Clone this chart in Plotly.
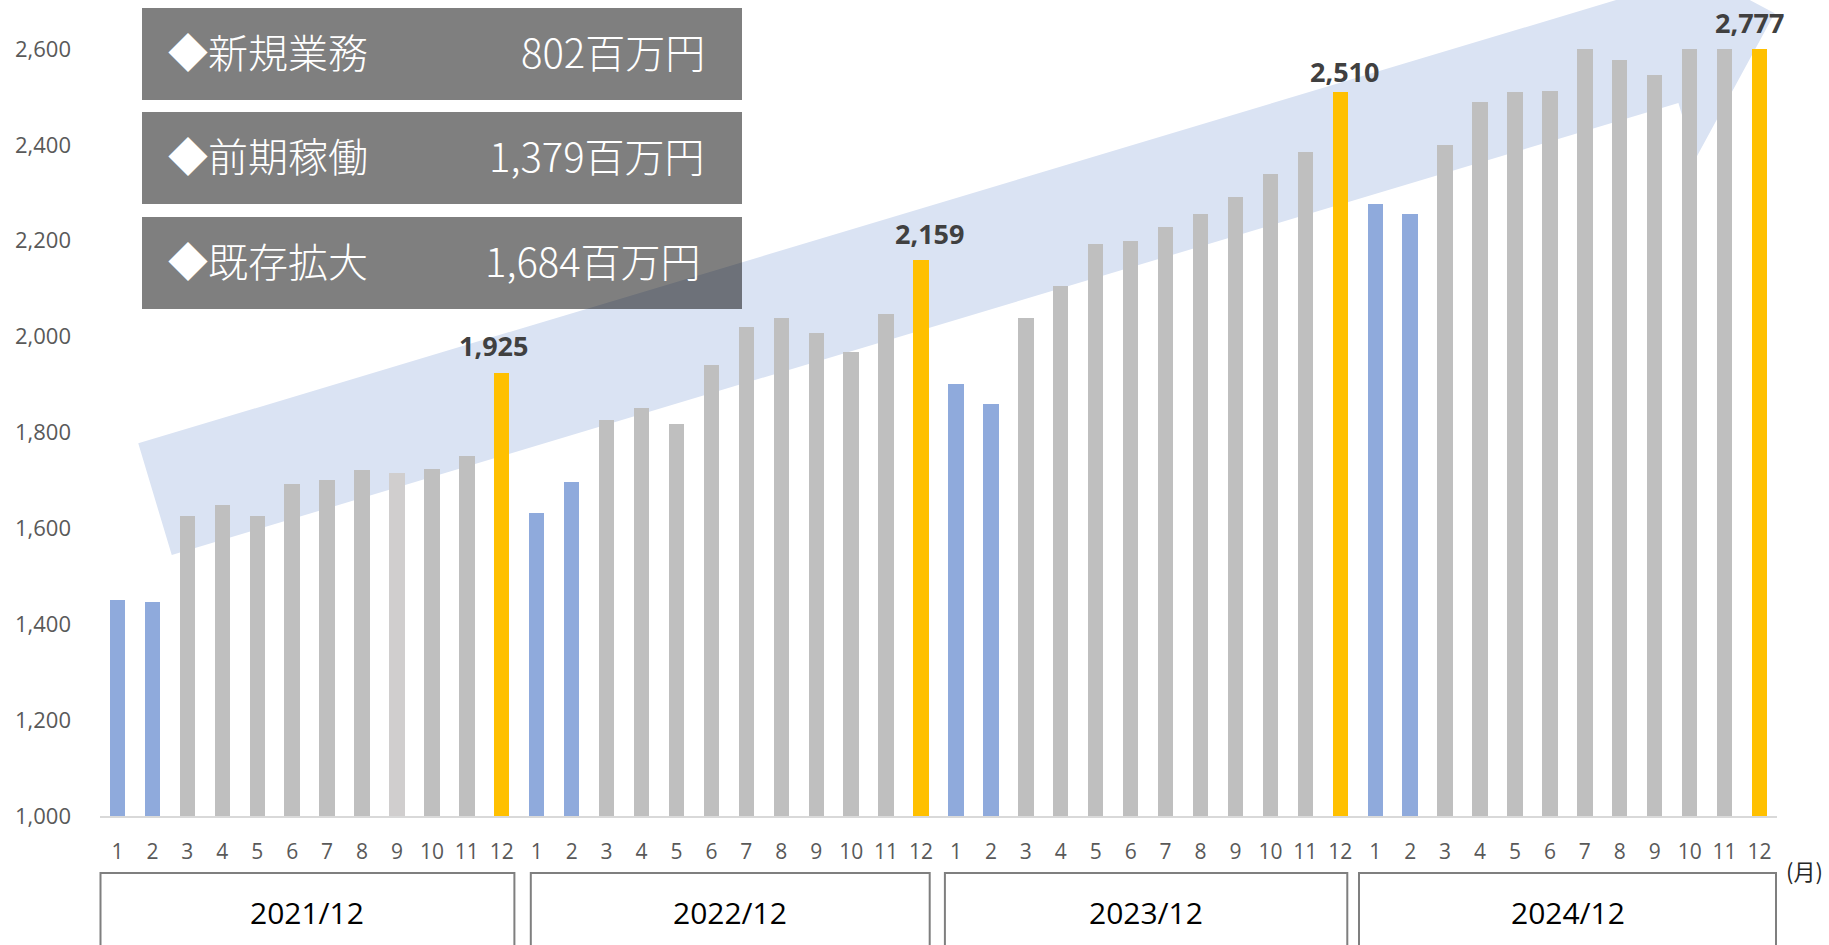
import plotly.graph_objects as go
import math

# ---------------- data ----------------
fiscal_years = ["2021/12", "2022/12", "2023/12", "2024/12"]
month_labels = ["1", "2", "3", "4", "5", "6", "7", "8", "9", "10", "11", "12"]
sales_2021 = [1451, 1447, 1625, 1649, 1625, 1693, 1701, 1722, 1716, 1724, 1751, 1925]
sales_2022 = [1632, 1696, 1827, 1852, 1818, 1941, 2021, 2038, 2008, 1967, 2048, 2159]
sales_2023 = [1902, 1860, 2038, 2106, 2194, 2200, 2229, 2256, 2292, 2340, 2386, 2510]
sales_2024 = [2277, 2256, 2400, 2490, 2510, 2513, 2600, 2577, 2546, 2600, 2600, 2777]
summary_names = ["◆新規業務", "◆前期稼働", "◆既存拡大"]
summary_values = ["802百万円", "1,379百万円", "1,684百万円"]
y_ticks = [1000, 1200, 1400, 1600, 1800, 2000, 2200, 2400, 2600]

all_sales = [sales_2021, sales_2022, sales_2023, sales_2024]

# ---------------- styles ----------------
W, H = 1829, 945
ML, MR, MT, MB = 100, 52, 49, 129
PW, PH = W - ML - MR, H - MT - MB
Y_MIN, Y_MAX = 1000, 2600

C_BLUE = "#8FAADC"
C_GRAY = "#BFBFBF"
C_LIGHT = "#D0CECE"
C_GOLD = "#FFC000"


def bar_color(yi, m):
    if m in (1, 2):
        return C_BLUE
    if m == 12:
        return C_GOLD
    if yi == 0 and m == 9:
        return C_LIGHT
    return C_GRAY


def px(xp):
    return (xp - ML) / PW


def py(yp):
    return (H - MB - yp) / PH


xs, ys, cols = [], [], []
for yi, vals in enumerate(all_sales):
    for mi, v in enumerate(vals):
        xs.append(yi * 12 + mi)
        ys.append(v)
        cols.append(bar_color(yi, mi + 1))

fig = go.Figure()
fig.add_trace(go.Bar(x=xs, y=ys, width=0.44, marker=dict(color=cols, line=dict(width=0)),
                     hoverinfo="y", showlegend=False))

shapes = []
annotations = []

# big translucent arrow (decoration), built in pixel geometry
s = 0.3
norm = math.sqrt(1 + s * s)
ux, uy = 1 / norm, -s / norm
nx, ny = s / norm, 1 / norm
cx, cy = 155.0, 499.2
hw, bw, a_base, a_tip = 58.3, 117.0, 1573.0, 1691.0


def pt(a, p):
    return (cx + a * ux + p * nx, cy + a * uy + p * ny)


poly = [pt(0, -hw), pt(a_base, -hw), pt(a_base, -bw), pt(a_tip, 0),
        pt(a_base, bw), pt(a_base, hw), pt(0, hw)]
path = "M " + " L ".join(f"{px(x):.5f},{py(y):.5f}" for x, y in poly) + " Z"
shapes.append(dict(type="path", path=path, xref="paper", yref="paper",
                   fillcolor="#DAE3F3", line=dict(width=0), layer="below"))

# summary boxes
box_tops = [8, 112, 217]
val_right = [707, 707, 703]
for i, (name, val) in enumerate(zip(summary_names, summary_values)):
    t = box_tops[i]
    b = t + 92
    shapes.append(dict(type="rect", xref="paper", yref="paper",
                       x0=px(142), x1=px(742), y0=py(b), y1=py(t),
                       fillcolor="rgba(0,0,0,0.5)", line=dict(width=0), layer="above"))
    yc = py((t + b) / 2 - 3)
    annotations.append(dict(text=name, xref="paper", yref="paper", x=px(166), y=yc,
                            xanchor="left", yanchor="middle", showarrow=False,
                            font=dict(family="Noto Sans CJK JP", size=40, color="white",
                                      weight=300)))
    annotations.append(dict(text=val, xref="paper", yref="paper", x=px(val_right[i]), y=yc,
                            xanchor="right", yanchor="middle", showarrow=False,
                            font=dict(family="Noto Sans CJK JP", size=40, color="white",
                                      weight=300)))

# fiscal-year boxes under the axis
box_x = [(100.5, 514.4), (530.8, 929.7), (944.9, 1347.3), (1359, 1776)]
for (x0, x1), fy in zip(box_x, fiscal_years):
    shapes.append(dict(type="rect", xref="paper", yref="paper",
                       x0=px(x0), x1=px(x1), y0=py(975), y1=py(873),
                       fillcolor="rgba(0,0,0,0)", line=dict(color="#7F7F7F", width=2),
                       layer="above"))
    annotations.append(dict(text=fy, xref="paper", yref="paper", x=px((x0 + x1) / 2), y=py(912),
                            xanchor="center", yanchor="middle", showarrow=False,
                            font=dict(family="Open Sans", size=30, color="#000000")))

# year-end data labels
label_dx = [-8, 8, 4, -10]
label_dy = [27, 27, 21, 27]
for yi, vals in enumerate(all_sales):
    v = vals[11]
    annotations.append(dict(text=f"<b>{v:,}</b>", x=yi * 12 + 11, y=min(v, Y_MAX),
                            xref="x", yref="y", yshift=label_dy[yi], xshift=label_dx[yi],
                            showarrow=False, xanchor="center", yanchor="middle",
                            font=dict(family="Open Sans", size=27, color="#404040")))

annotations.append(dict(text="(月)", xref="paper", yref="paper", x=px(1804), y=py(870),
                        xanchor="center", yanchor="middle", showarrow=False,
                        font=dict(family="Noto Sans CJK JP", size=22, color="#262626")))

tickvals = list(range(48))
ticktext = month_labels * 4

fig.update_layout(
    width=W, height=H,
    margin=dict(l=ML, r=MR, t=MT, b=MB, pad=0),
    paper_bgcolor="white", plot_bgcolor="white",
    shapes=shapes, annotations=annotations,
    bargap=0, showlegend=False,
    xaxis=dict(range=[-0.5, 47.5], tickmode="array", tickvals=tickvals, ticktext=ticktext,
               showgrid=False, zeroline=False, showline=True, linecolor="#D9D9D9", linewidth=2,
               ticks="", ticklabelstandoff=16,
               tickfont=dict(family="Open Sans", size=21, color="#595959")),
    yaxis=dict(range=[Y_MIN, Y_MAX], tickmode="array", tickvals=y_ticks,
               ticktext=[f"{v:,}" for v in y_ticks],
               showgrid=False, zeroline=False, showline=False, ticks="",
               ticklabelstandoff=28,
               tickfont=dict(family="Open Sans", size=22, color="#595959")),
)

fig.write_html("out.html")
